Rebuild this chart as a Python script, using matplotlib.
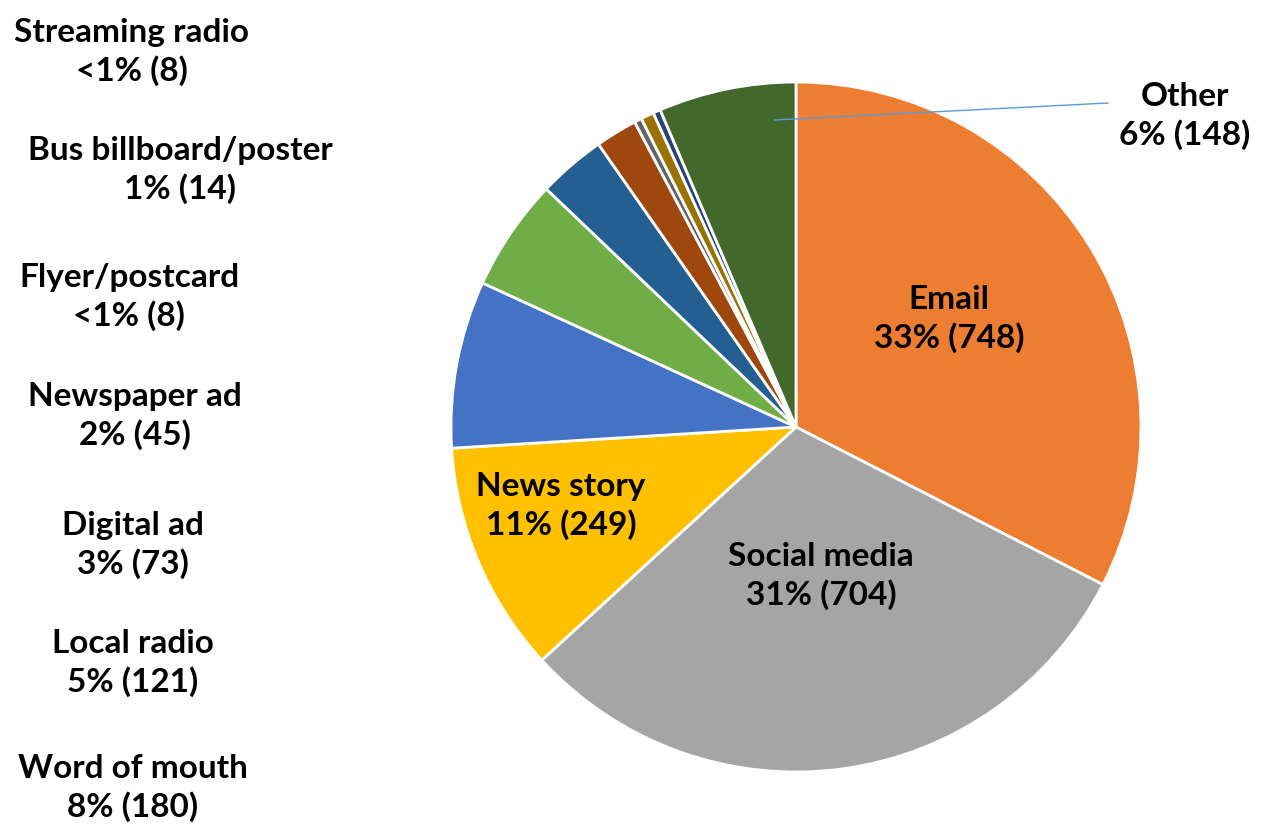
import matplotlib.pyplot as plt

plt.rcParams['font.family'] = ['Lato', 'DejaVu Sans']

# dati
categories = ['Email', 'Social media', 'News story', 'Word of mouth', 'Local radio',
              'Digital ad', 'Newspaper ad', 'Flyer/postcard', 'Bus billboard/poster',
              'Streaming radio', 'Other']
counts = [748, 704, 249, 180, 121, 73, 45, 8, 14, 8, 148]
colors = ['#ED7D31', '#A5A5A5', '#FFC000', '#4472C4', '#70AD47', '#255E91',
          '#9E480E', '#636363', '#997300', '#264478', '#43682B']

total = sum(counts)


def label_for(name, n):
    p = round(n / total * 100)
    pct = '<1%' if p == 0 else f'{p}%'
    return f'{name}\n{pct} ({n})'


W, H = 1264, 827
fig = plt.figure(figsize=(W / 100, H / 100), dpi=100)

# pie centro (796, 427) px, raggio 345 px
cx, cy, r = 796, 427, 345
half = 352
ax = fig.add_axes([(cx - half) / W, (H - cy - half) / H, 2 * half / W, 2 * half / H])
ax.pie(counts, colors=colors, startangle=90, counterclock=False, radius=1,
       wedgeprops=dict(edgecolor='white', linewidth=2))
lim = half / r
ax.set_xlim(-lim, lim)
ax.set_ylim(-lim, lim)
ax.set_aspect('equal')
ax.axis('off')

fs = 24
ls = 1.33
# etichette dentro la torta
inside = {'Email': (949, 319), 'Social media': (821, 576), 'News story': (561, 506)}
for name, (px, py) in inside.items():
    i = categories.index(name)
    fig.text(px / W, 1 - py / H, label_for(name, counts[i]), ha='center', va='center',
             fontsize=fs, fontweight='bold', linespacing=ls)

# Other con linea
i = categories.index('Other')
fig.text(1185 / W, 1 - 116 / H, label_for('Other', counts[i]), ha='center', va='center',
         fontsize=fs, fontweight='bold', linespacing=ls)
ax.plot([(775 - cx) / r, (1108 - cx) / r], [(cy - 120) / r, (cy - 103) / r],
        color='#5B9BD5', linewidth=1, clip_on=False)

# etichette a sinistra
left = {'Streaming radio': (132, 52), 'Bus billboard/poster': (180, 170),
        'Flyer/postcard': (129, 297), 'Newspaper ad': (135, 416), 'Digital ad': (133, 545),
        'Local radio': (133, 663), 'Word of mouth': (133, 788)}
for name, (px, py) in left.items():
    i = categories.index(name)
    fig.text(px / W, 1 - py / H, label_for(name, counts[i]), ha='center', va='center',
             fontsize=fs, fontweight='bold', linespacing=ls)

fig.savefig('out.png', dpi=100, facecolor='white')
